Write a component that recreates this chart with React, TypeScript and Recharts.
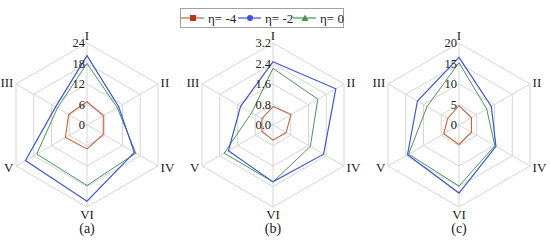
import { PolarAngleAxis, PolarGrid, PolarRadiusAxis, Radar, RadarChart } from 'recharts';

const categories = ['I', 'II', 'IV', 'VI', 'V', 'III'];

// (a)
const etaM4A = [6.8, 5.5, 5.5, 7.0, 7.3, 6.2];
const etaM2A = [20.3, 10.7, 16.0, 22.3, 20.8, 10.6];
const eta0A = [18.0, 10.2, 16.5, 17.7, 17.0, 10.0];
const ticksA = [0, 6, 12, 18, 24];

// (b)
const etaM4B = [0.72, 0.81, 0.59, 0.59, 0.5, 0.5];
const etaM2B = [2.47, 2.83, 2.28, 2.22, 2.01, 1.46];
const eta0B = [2.21, 2.02, 1.68, 2.22, 2.2, 0.96];
const ticksB = [0, 0.8, 1.6, 2.4, 3.2];

// (c)
const etaM4C = [4.7, 3.5, 3.5, 4.75, 4.3, 3.2];
const etaM2C = [16.5, 9.1, 10.4, 16.6, 14.5, 11.7];
const eta0C = [15.2, 7.8, 10.1, 14.9, 14.2, 9.0];
const ticksC = [0, 5, 10, 15, 20];

const RED = '#c4643f';
const RED_DOT = '#b8321c';
const BLUE = '#3f55d4';
const GREEN = '#4a9458';
const FONT = 'Liberation Serif, DejaVu Serif, serif';

function build(m4: number[], m2: number[], z: number[]) {
  return categories.map((cat, i) => ({ cat, m4: m4[i], m2: m2[i], z: z[i] }));
}

function AngleTick(props: any) {
  const { x, y, payload, textAnchor } = props;
  let yy = y;
  if (textAnchor === 'middle') yy = payload.value === 'I' ? y - 5 : y + 4;
  return (
    <text x={x} y={yy} textAnchor={textAnchor} dominantBaseline="central" style={{ fontFamily: FONT }} fontSize={13} fill="#222">
      {payload.value}
    </text>
  );
}

function Spider({ data, ticks, fmt, caption }: { data: any[]; ticks: number[]; fmt: (v: number) => string; caption: string }) {
  const RadiusTick = (props: any) => (
    <text x={props.x - 2} y={props.y} textAnchor="end" dominantBaseline="central" style={{ fontFamily: FONT }} fontSize={12.5} fill="#222">
      {fmt(props.payload.value)}
    </text>
  );
  return (
    <div style={{ position: 'relative', width: 186, height: 240 }}>
      <RadarChart width={186} height={240} data={data} cx={87} cy={125} outerRadius={82} margin={{ top: 0, right: 0, bottom: 0, left: 0 }}>
        <PolarGrid gridType="polygon" stroke="#d6d6d6" />
        <PolarAngleAxis dataKey="cat" tick={AngleTick} tickLine={false} axisLine={false} tickSize={3} />
        <PolarRadiusAxis
          angle={90}
          orientation="left"
          domain={[0, ticks[ticks.length - 1]]}
          ticks={ticks as any}
          tick={RadiusTick}
          axisLine={false}
          tickLine={false}
        />
        <Radar dataKey="z" stroke={GREEN} strokeWidth={1} fill="none" fillOpacity={0} dot={{ r: 2, fill: GREEN, stroke: 'none' }} isAnimationActive={false} />
        <Radar dataKey="m2" stroke={BLUE} strokeWidth={1.2} fill="none" fillOpacity={0} dot={{ r: 2.2, fill: BLUE, stroke: 'none' }} isAnimationActive={false} />
        <Radar dataKey="m4" stroke={RED} strokeWidth={1.1} fill="none" fillOpacity={0} dot={{ r: 2, fill: RED_DOT, stroke: 'none' }} isAnimationActive={false} />
      </RadarChart>
      <div style={{ position: 'absolute', left: 0, width: 174, top: 221, textAlign: 'center', fontFamily: FONT, fontSize: 14, color: '#222' }}>
        {caption}
      </div>
    </div>
  );
}

function Legend() {
  const items = [
    { label: 'η= -4', color: RED, dot: RED_DOT, shape: 'square' },
    { label: 'η= -2', color: BLUE, dot: BLUE, shape: 'circle' },
    { label: 'η= 0', color: GREEN, dot: GREEN, shape: 'triangle' },
  ];
  const xs = [1, 58, 113];
  return (
    <svg width={164} height={20} style={{ position: 'absolute', left: 180, top: 8 }}>
      <rect x={0.5} y={0.5} width={163} height={19} fill="#fff" stroke="#a0a0a0" />
      {items.map((it, i) => {
        const x0 = xs[i];
        const mx = x0 + 12;
        return (
          <g key={it.label}>
            <line x1={x0} x2={x0 + 23} y1={10} y2={10} stroke={it.color} strokeWidth={1.2} />
            {it.shape === 'square' && <rect x={mx - 3} y={7} width={6} height={6} fill={it.dot} />}
            {it.shape === 'circle' && <circle cx={mx} cy={10} r={3} fill={it.dot} />}
            {it.shape === 'triangle' && <polygon points={`${mx - 3.5},13 ${mx + 3.5},13 ${mx},6.5`} fill={it.dot} />}
            <text x={x0 + 27} y={10} dominantBaseline="central" style={{ fontFamily: FONT }} fontSize={13} fill="#222">
              {it.label}
            </text>
          </g>
        );
      })}
    </svg>
  );
}

export default function App() {
  return (
    <div style={{ position: 'absolute', left: 0, top: 0, width: 550, height: 240, background: '#fff' }}>
      <div style={{ position: 'absolute', left: 0, top: 0, display: 'flex' }}>
        <Spider data={build(etaM4A, etaM2A, eta0A)} ticks={ticksA} fmt={(v) => String(v)} caption="(a)" />
        <Spider data={build(etaM4B, etaM2B, eta0B)} ticks={ticksB} fmt={(v) => v.toFixed(1)} caption="(b)" />
        <Spider data={build(etaM4C, etaM2C, eta0C)} ticks={ticksC} fmt={(v) => String(v)} caption="(c)" />
      </div>
      <Legend />
    </div>
  );
}
